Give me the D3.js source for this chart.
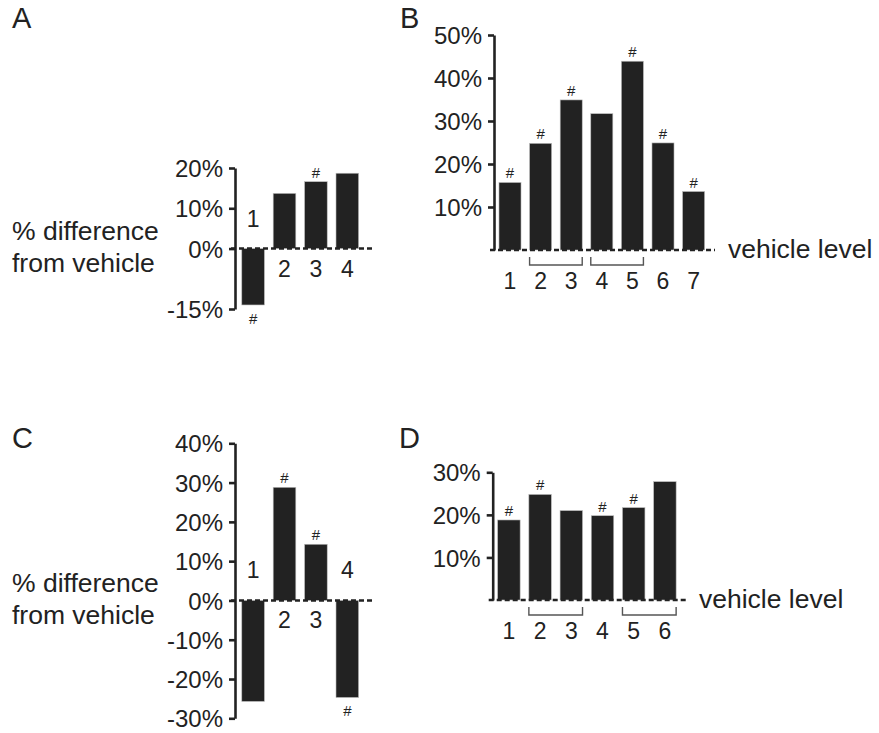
<!DOCTYPE html>
<html>
<head>
<meta charset="utf-8">
<script src="https://cdn.jsdelivr.net/npm/d3@7"></script>
<style>
  body { margin: 0; background: #fff; }
  svg { display: block; }
  text { font-family: "Liberation Sans", Arial, sans-serif; fill: #222; }
</style>
</head>
<body>
<svg id="chart" width="879" height="733"></svg>
<script>
// ---- Data ----
const catsA = ["1", "2", "3", "4"];
const valuesA = [-14, 13.7, 16.6, 18.7];
const sigA = [true, false, true, false];
const ticksA = [20, 10, 0, -15];

const catsB = ["1", "2", "3", "4", "5", "6", "7"];
const valuesB = [15.7, 24.8, 34.9, 31.7, 43.9, 24.9, 13.6];
const sigB = [true, true, true, false, true, true, true];
const ticksB = [10, 20, 30, 40, 50];
const bracketsB = [[1, 2], [3, 4]];

const catsC = ["1", "2", "3", "4"];
const valuesC = [-25.7, 28.8, 14.3, -24.7];
const sigC = [false, true, true, true];
const ticksC = [40, 30, 20, 10, 0, -10, -20, -30];

const catsD = ["1", "2", "3", "4", "5", "6"];
const valuesD = [18.8, 24.8, 21, 19.8, 21.7, 27.8];
const sigD = [true, true, false, true, true, false];
const ticksD = [10, 20, 30];
const bracketsD = [[1, 2], [4, 5]];

const panelLetters = ["A", "B", "C", "D"];
const yTitleLines = ["% difference", "from vehicle"];
const xTitle = "vehicle level";

// ---- Drawing ----
const svg = d3.select("#chart");
const ink = "#222";

function drawPanel(opt) {
  const g = svg.append("g");
  const y = d3.scaleLinear().domain(opt.domain).range(opt.yRange);
  const x = d3.scaleBand().domain(opt.cats).range(opt.xRange)
    .paddingInner(0.28).paddingOuter(0.14);
  const zero = y(0);
  const rows = opt.cats.map((c, i) => ({ cat: c, value: opt.values[i], sig: opt.sig[i] }));

  // bars
  g.selectAll("rect.bar").data(rows).enter().append("rect")
    .attr("class", "bar")
    .attr("x", d => x(d.cat))
    .attr("width", x.bandwidth())
    .attr("y", d => d.value >= 0 ? y(d.value) : zero)
    .attr("height", d => Math.abs(y(d.value) - zero))
    .attr("fill", ink)
    .attr("stroke", "#bbb").attr("stroke-width", 0.6);

  // axis
  const axis = d3.axisLeft(y).tickValues(opt.ticks).tickSize(6).tickSizeOuter(0)
    .tickPadding(6).tickFormat(d => d + "%");
  const ax = g.append("g").attr("transform", `translate(${opt.axisX},0)`).call(axis);
  ax.select(".domain").attr("stroke", ink).attr("stroke-width", 2.6);
  ax.selectAll(".tick line").attr("stroke", ink).attr("stroke-width", 2.6);
  ax.selectAll(".tick text").attr("font-size", 24)
    .attr("font-family", '"Liberation Sans", Arial, sans-serif').attr("fill", ink)
    .attr("dy", "0.36em");

  // dashed zero line
  g.append("line")
    .attr("x1", opt.axisX - 4).attr("x2", opt.dashEnd)
    .attr("y1", zero).attr("y2", zero)
    .attr("stroke", ink).attr("stroke-width", 2.4)
    .attr("stroke-dasharray", "5,3");

  // significance marks
  g.selectAll("text.sig").data(rows.filter(d => d.sig)).enter().append("text")
    .attr("class", "sig")
    .attr("x", d => x(d.cat) + x.bandwidth() / 2)
    .attr("y", d => d.value >= 0 ? y(d.value) - 4 : y(d.value) + 19)
    .attr("text-anchor", "middle").attr("font-size", 15)
    .text("#");

  if (opt.inlineLabels) {
    g.selectAll("text.cat").data(rows).enter().append("text")
      .attr("class", "cat")
      .attr("x", d => x(d.cat) + x.bandwidth() / 2)
      .attr("y", d => d.value >= 0 ? zero + 28 : zero - 22)
      .attr("text-anchor", "middle").attr("font-size", 23)
      .text(d => d.cat);
  } else {
    g.selectAll("text.cat").data(rows).enter().append("text")
      .attr("class", "cat")
      .attr("x", d => x(d.cat) + x.bandwidth() / 2)
      .attr("y", zero + 39)
      .attr("text-anchor", "middle").attr("font-size", 23)
      .text(d => d.cat);
    // brackets
    opt.brackets.forEach(([a, b]) => {
      const x0 = x(opt.cats[a]), x1 = x(opt.cats[b]) + x.bandwidth();
      g.append("path")
        .attr("d", `M${x0},${zero + 7}V${zero + 15}H${x1}V${zero + 7}`)
        .attr("fill", "none").attr("stroke", "#555").attr("stroke-width", 1.4);
    });
    g.append("text").attr("x", opt.dashEnd + 13).attr("y", zero + 8)
      .attr("font-size", 26.5).text(xTitle);
  }

  if (opt.yTitleY) {
    yTitleLines.forEach((t, i) => {
      g.append("text").attr("x", 12).attr("y", opt.yTitleY + i * 31.5)
        .attr("font-size", 26.5).text(t);
    });
  }

  svg.append("text").attr("x", opt.letterX).attr("y", opt.letterY)
    .attr("font-size", 29).text(opt.letter);
}

drawPanel({
  letter: panelLetters[0], letterX: 12, letterY: 28,
  cats: catsA, values: valuesA, sig: sigA, ticks: ticksA,
  domain: [-15, 20], yRange: [309, 168], xRange: [237.4, 363],
  axisX: 235, dashEnd: 373, inlineLabels: true, yTitleY: 240
});
drawPanel({
  letter: panelLetters[1], letterX: 400, letterY: 28,
  cats: catsB, values: valuesB, sig: sigB, ticks: ticksB, brackets: bracketsB,
  domain: [0, 50], yRange: [250, 35], xRange: [494.7, 708.9],
  axisX: 494, dashEnd: 715, inlineLabels: false
});
drawPanel({
  letter: panelLetters[2], letterX: 12, letterY: 448,
  cats: catsC, values: valuesC, sig: sigC, ticks: ticksC,
  domain: [-30, 40], yRange: [718.3, 443.3], xRange: [237.4, 363],
  axisX: 235, dashEnd: 373, inlineLabels: true, yTitleY: 592
});
drawPanel({
  letter: panelLetters[3], letterX: 399, letterY: 448,
  cats: catsD, values: valuesD, sig: sigD, ticks: ticksD, brackets: bracketsD,
  domain: [0, 30], yRange: [600, 472.3], xRange: [493.3, 680.5],
  axisX: 492.7, dashEnd: 686, inlineLabels: false
});
</script>
</body>
</html>
